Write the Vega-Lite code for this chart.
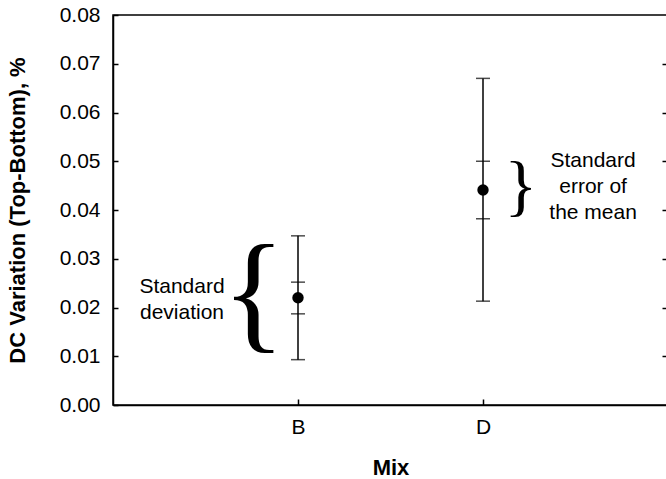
{
  "$schema": "https://vega.github.io/schema/vega-lite/v6.json",
  "width": 555,
  "height": 390,
  "autosize": "none",
  "padding": {"left": 113, "top": 15, "right": 0, "bottom": 74},
  "background": "white",
  "config": {
    "view": {"stroke": "black", "strokeWidth": 1.5},
    "font": "Liberation Sans",
    "axis": {"grid": false, "domainColor": "black", "domainWidth": 1.5, "tickColor": "black", "tickWidth": 1.5, "labelColor": "black", "titleColor": "black", "labelFont": "Liberation Sans", "titleFont": "Liberation Sans", "labelFontSize": 21, "titleFontSize": 22, "titleFontWeight": "bold"}
  },
  "datasets": {
    "stats": [
      {"mix": "B", "x": 1, "mean": 0.022, "sd_lo": 0.0093, "sd_hi": 0.0347, "se_lo": 0.0187, "se_hi": 0.0252},
      {"mix": "D", "x": 2, "mean": 0.0441, "sd_lo": 0.0213, "sd_hi": 0.067, "se_lo": 0.0382, "se_hi": 0.05}
    ],
    "notes": [
      {"kind": "bigbrace", "label": "{", "x": 0.76, "y": 0.0226},
      {"kind": "smallbrace", "label": "}", "x": 2.205, "y": 0.0446},
      {"kind": "text", "label": "Standard\ndeviation", "x": 0.373, "y": 0.0243},
      {"kind": "text", "label": "Standard\nerror of\nthe mean", "x": 2.595, "y": 0.05}
    ]
  },
  "resolve": {"axis": {"y": "independent"}},
  "layer": [
    {
      "data": {"name": "stats"},
      "mark": {"type": "rule", "color": "black", "strokeWidth": 1.5},
      "encoding": {
        "x": {"field": "x", "type": "quantitative", "scale": {"domain": [0, 3], "nice": false, "zero": false},
              "axis": {"title": "Mix", "values": [1, 2], "labelExpr": "datum.value == 1 ? 'B' : 'D'", "tickSize": -6, "labelPadding": 17, "titlePadding": 20}},
        "y": {"field": "sd_lo", "type": "quantitative", "scale": {"domain": [0, 0.08], "nice": false},
              "axis": {"title": "DC Variation (Top-Bottom), %", "values": [0, 0.01, 0.02, 0.03, 0.04, 0.05, 0.06, 0.07, 0.08], "format": ".2f", "tickSize": -5, "labelPadding": 18, "titlePadding": 30}},
        "y2": {"field": "sd_hi"}
      }
    },
    {
      "data": {"name": "stats"},
      "transform": [{"fold": ["sd_lo", "sd_hi", "se_lo", "se_hi"], "as": ["bound", "value"]}],
      "mark": {"type": "tick", "orient": "horizontal", "color": "black", "size": 14, "thickness": 1.5},
      "encoding": {
        "x": {"field": "x", "type": "quantitative"},
        "y": {"field": "value", "type": "quantitative", "axis": {"orient": "right", "title": null, "labels": false, "domain": false, "values": [0.01, 0.02, 0.03, 0.04, 0.05, 0.06, 0.07], "tickSize": -6}}
      }
    },
    {
      "data": {"name": "stats"},
      "mark": {"type": "point", "filled": true, "color": "black", "opacity": 1, "size": 130},
      "encoding": {
        "x": {"field": "x", "type": "quantitative"},
        "y": {"field": "mean", "type": "quantitative", "axis": null}
      }
    },
    {
      "data": {"name": "notes"},
      "transform": [{"filter": "datum.kind == 'bigbrace'"}],
      "mark": {"type": "text", "font": "Liberation Serif", "fontSize": 132, "align": "center", "baseline": "middle", "color": "black"},
      "encoding": {
        "x": {"field": "x", "type": "quantitative"},
        "y": {"field": "y", "type": "quantitative", "axis": null},
        "text": {"field": "label"}
      }
    },
    {
      "data": {"name": "notes"},
      "transform": [{"filter": "datum.kind == 'smallbrace'"}],
      "mark": {"type": "text", "font": "Liberation Serif", "fontSize": 68, "align": "center", "baseline": "middle", "color": "black"},
      "encoding": {
        "x": {"field": "x", "type": "quantitative"},
        "y": {"field": "y", "type": "quantitative", "axis": null},
        "text": {"field": "label"}
      }
    },
    {
      "data": {"name": "notes"},
      "transform": [{"filter": "datum.kind == 'text'"}],
      "mark": {"type": "text", "font": "Liberation Sans", "fontSize": 21, "align": "center", "baseline": "middle", "lineBreak": "\n", "lineHeight": 26, "color": "black"},
      "encoding": {
        "x": {"field": "x", "type": "quantitative"},
        "y": {"field": "y", "type": "quantitative", "axis": null},
        "text": {"field": "label"}
      }
    }
  ]
}
